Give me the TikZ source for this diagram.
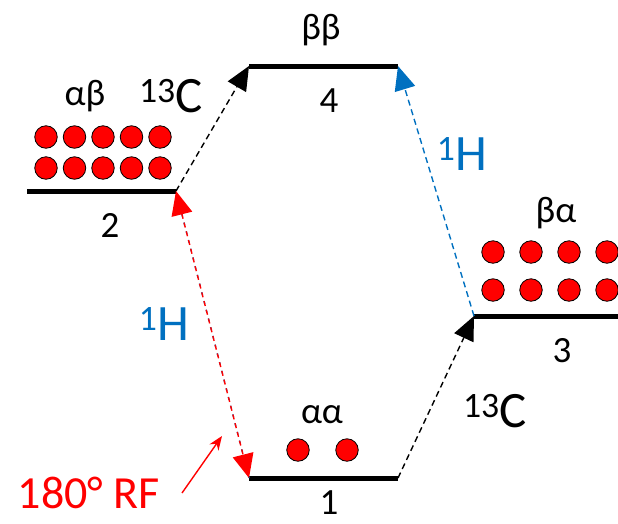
\documentclass[tikz,border=0pt]{standalone}
\usepackage{fontspec}
\setmainfont{Carlito}
\usetikzlibrary{arrows.meta}
\definecolor{hblue}{RGB}{0,112,192}
\definecolor{rfred}{RGB}{255,0,0}

\begin{document}
\begin{tikzpicture}[x=1pt, y=-1pt,
    level/.style={line width=5pt},
    pop/.style={circle, draw=black, line width=0.8pt, fill=rfred, minimum size=22.5pt, inner sep=0pt},
    spin/.style={anchor=base, inner sep=0pt, font=\fontsize{37}{37}\selectfont},
    nuc/.style={anchor=base, inner sep=0pt, font=\fontsize{51}{51}\selectfont},
    trans/.style={line width=1.4pt, dash pattern=on 6pt off 4pt},
    tip/.style={-{Triangle[length=24pt,width=21pt]}}]
      \useasboundingbox (0,0) rectangle (618,523);
      \coordinate (l1w) at (249,478);
      \coordinate (l1e) at (398,478);
      \coordinate (l2w) at (27,191);
      \coordinate (l2e) at (176,191);
      \coordinate (l3w) at (474,316);
      \coordinate (l3e) at (618,316);
      \coordinate (l4w) at (249,66);
      \coordinate (l4e) at (398,66);
      \coordinate (rfs) at (182,493);
      \coordinate (rft) at (222,436);
      \draw[level] (l1w) -- (l1e);
      \draw[level] (l2w) -- (l2e);
      \draw[level] (l3w) -- (l3e);
      \draw[level] (l4w) -- (l4e);
      \node[spin] (n1) at (329,514) {1};
      \node[spin] (n2) at (110,237) {2};
      \node[spin] (n3) at (562,362) {3};
      \node[spin] (n4) at (329,112) {4};
      \node[spin] (saa) at (322,423) {αα};
      \node[spin] (sab) at (85,105) {αβ};
      \node[spin] (sba) at (556,222) {βα};
      \node[spin] (sbb) at (321,39) {ββ};
      \node[pop] (p1a) at (298,450) {};
      \node[pop] (p1b) at (347,450) {};
      \node[pop] (p2a) at (46,137) {};
      \node[pop] (p2b) at (74.5,137) {};
      \node[pop] (p2c) at (103,137) {};
      \node[pop] (p2d) at (131.5,137) {};
      \node[pop] (p2e) at (160,137) {};
      \node[pop] (p2f) at (46,168) {};
      \node[pop] (p2g) at (74.5,168) {};
      \node[pop] (p2h) at (103,168) {};
      \node[pop] (p2i) at (131.5,168) {};
      \node[pop] (p2j) at (160,168) {};
      \node[pop] (p3a) at (493,252) {};
      \node[pop] (p3b) at (531,252) {};
      \node[pop] (p3c) at (569,252) {};
      \node[pop] (p3d) at (607,252) {};
      \node[pop] (p3e) at (493,290) {};
      \node[pop] (p3f) at (531,290) {};
      \node[pop] (p3g) at (569,290) {};
      \node[pop] (p3h) at (607,290) {};
      \draw[trans, tip] (l2e) -- (l4w);
      \draw[trans, tip] (l1e) -- (l3w);
      \draw[trans, hblue, tip] (l3w) -- (l4e);
      \draw[line width=1.4pt, hblue, dash pattern=on 3pt off 6pt, dash phase=3.5pt] (l2e) -- (l1w);
      \draw[line width=1.4pt, rfred, dash pattern=on 5pt off 4pt, {Triangle[length=24pt,width=21pt]}-{Triangle[length=24pt,width=21pt]}] (l2e) -- (l1w);
      \draw[line width=1.4pt, rfred, -{Stealth[length=14pt,width=11pt]}] (rfs) -- (rft);
      \node[nuc] (c13a) at (171,112) {\textsuperscript{13}C};
      \node[nuc] (c13b) at (495,427) {\textsuperscript{13}C};
      \node[nuc, hblue] (h1a) at (164,340) {\textsuperscript{1}H};
      \node[nuc, hblue] (h1b) at (462,170) {\textsuperscript{1}H};
      \node[anchor=base, inner sep=0pt, rfred, font=\fontsize{46}{46}\selectfont] (rf) at (89,508) {180° RF};
\end{tikzpicture}
\end{document}
